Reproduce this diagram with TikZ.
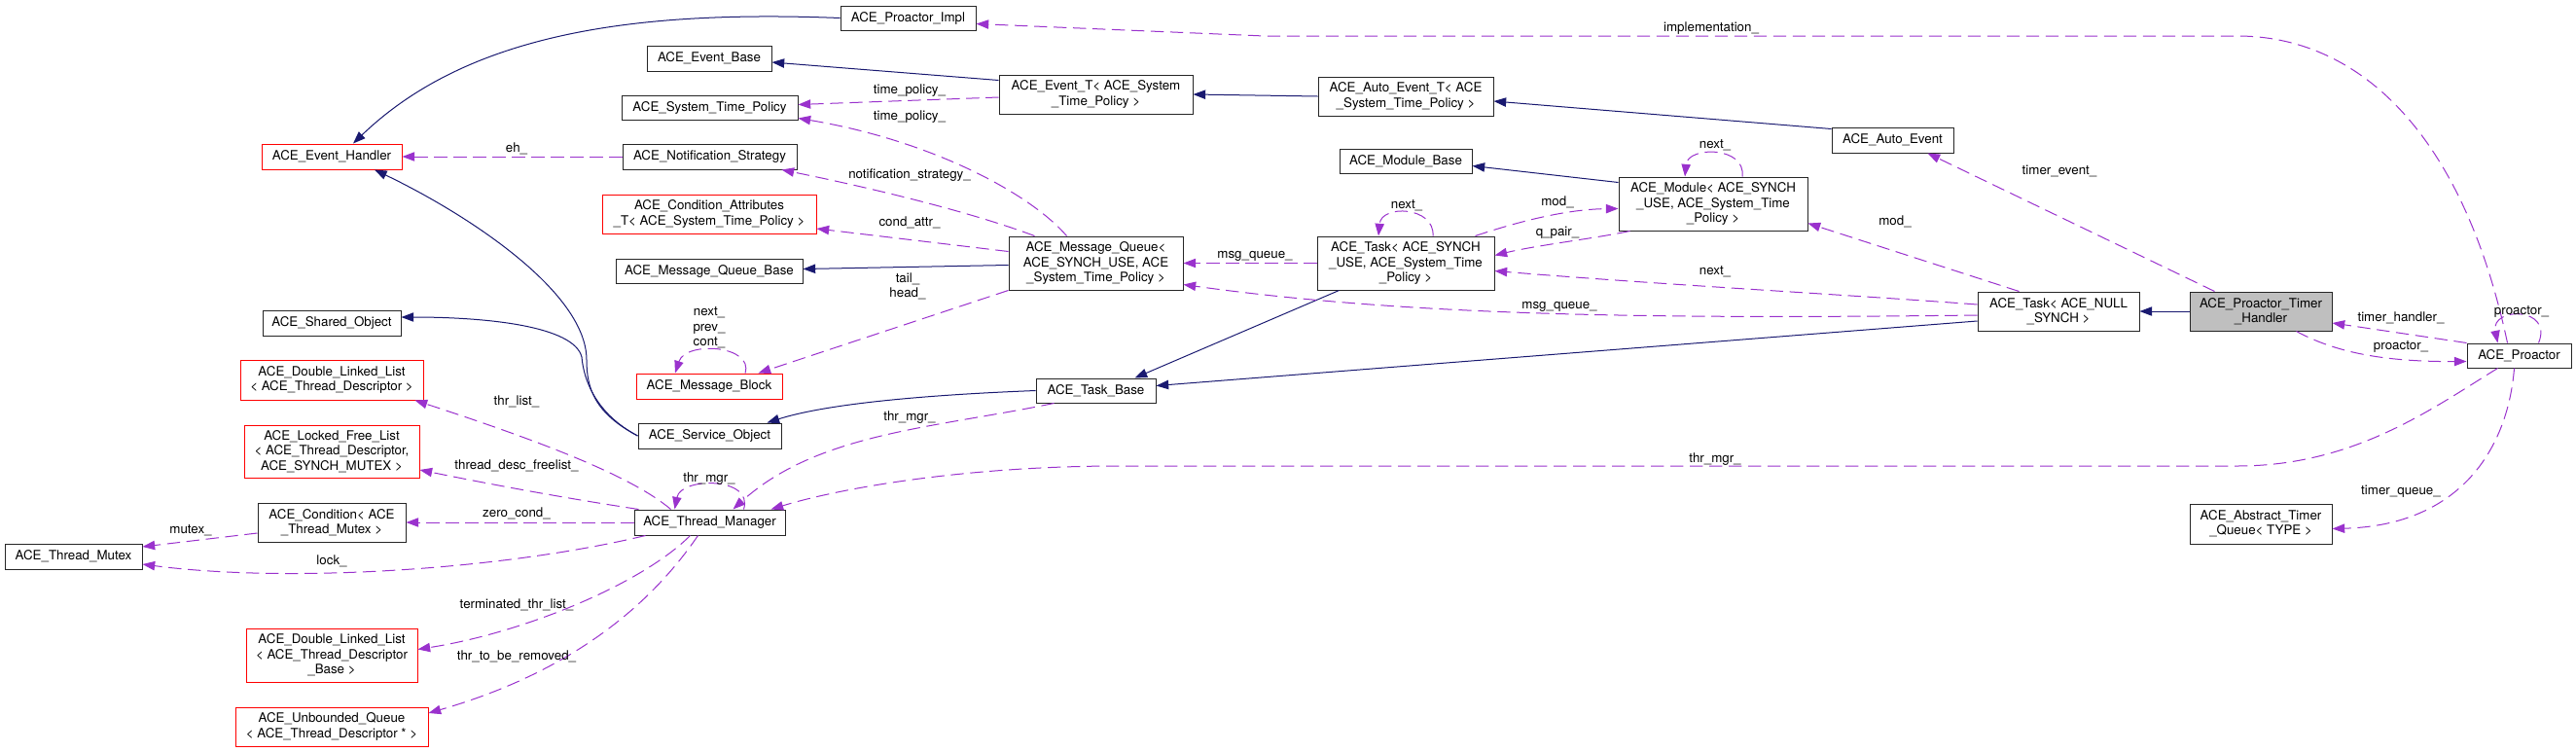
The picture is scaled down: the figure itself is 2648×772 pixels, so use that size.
\documentclass[tikz,border=0pt]{standalone}
\usepackage{fontspec}
\setmainfont{TeX Gyre Heros}
\usetikzlibrary{calc}
\usetikzlibrary{arrows.meta}
\definecolor{inhblue}{RGB}{25,25,112}
\definecolor{usepurple}{RGB}{154,50,205}

\begin{document}
\begin{tikzpicture}[x=0.75pt,y=-0.75pt,font=\fontsize{10}{11.5}\selectfont,
  sz/.style 2 args={minimum width={#1*0.75pt},minimum height={#2*0.75pt}}]
  \tikzstyle{cls}=[draw=black!85,line width=0.75pt,fill=white,align=center,inner sep=0pt]
  \tikzstyle{trunc}=[cls,draw=red]
  \tikzstyle{focus}=[cls,fill=black!25]
  \tikzstyle{lbl}=[inner sep=0pt,align=center]
  \tikzstyle{inh}=[draw=inhblue,line width=0.75pt,-{Triangle[length=9.5pt,width=7pt]}]
  \tikzstyle{use}=[draw=usepurple,line width=0.75pt,dash pattern=on 10pt off 5pt,
    -{Triangle[length=9.5pt,width=7pt]}]
  \useasboundingbox (0,0) rectangle (2648,772);

  % left column
  \node[trunc,sz={144}{26}] (EH) at (341,161) {ACE\_Event\_Handler};
  \node[cls,sz={142}{26}] (ShObj) at (341,332) {ACE\_Shared\_Object};
  \node[trunc,sz={188}{41}] (DLLDesc) at (341,390.5) {ACE\_Double\_Linked\_List\\< ACE\_Thread\_Descriptor >};
  \node[trunc,sz={180}{54}] (LFL) at (341,464) {ACE\_Locked\_Free\_List\\< ACE\_Thread\_Descriptor,\\ ACE\_SYNCH\_MUTEX >};
  \node[cls,sz={152}{40}] (CondTM) at (341,537) {ACE\_Condition< ACE\\\_Thread\_Mutex >};
  \node[cls,sz={141}{26}] (TMutex) at (75.5,572) {ACE\_Thread\_Mutex};
  \node[trunc,sz={176}{55}] (DLLBase) at (341,673.5) {ACE\_Double\_Linked\_List\\< ACE\_Thread\_Descriptor\\\_Base >};
  \node[trunc,sz={198}{40}] (UQ) at (341,747) {ACE\_Unbounded\_Queue\\< ACE\_Thread\_Descriptor * >};

  % second column
  \node[cls,sz={128}{26}] (EvBase) at (729,60) {ACE\_Event\_Base};
  \node[cls,sz={181}{25}] (STP) at (729.5,110.5) {ACE\_System\_Time\_Policy};
  \node[cls,sz={179}{26}] (NS) at (729.5,161) {ACE\_Notification\_Strategy};
  \node[trunc,sz={220}{40}] (CAttr) at (729,220) {ACE\_Condition\_Attributes\\\_T< ACE\_System\_Time\_Policy >};
  \node[cls,sz={192}{25}] (MQBase) at (729,278.5) {ACE\_Message\_Queue\_Base};
  \node[trunc,sz={150}{26}] (MB) at (729,397) {ACE\_Message\_Block};
  \node[cls,sz={147}{26}] (SvcObj) at (729.5,448) {ACE\_Service\_Object};
  \node[cls,sz={155}{26}] (TM) at (729.5,537) {ACE\_Thread\_Manager};

  % middle
  \node[cls,sz={139}{25}] (Impl) at (933.5,18.5) {ACE\_Proactor\_Impl};
  \node[cls,sz={199}{40}] (EvT) at (1126.5,97) {ACE\_Event\_T< ACE\_System\\\_Time\_Policy >};
  \node[cls,sz={179}{55}] (MQ) at (1126.5,270.5) {ACE\_Message\_Queue<\\ ACE\_SYNCH\_USE, ACE\\\_System\_Time\_Policy >};
  \node[cls,sz={123}{25}] (TaskBase) at (1126.5,401.5) {ACE\_Task\_Base};
  \node[cls,sz={180}{40}] (AutoEvT) at (1445,99) {ACE\_Auto\_Event\_T< ACE\\\_System\_Time\_Policy >};
  \node[cls,sz={136}{25}] (ModBase) at (1445,165.5) {ACE\_Module\_Base};
  \node[cls,sz={182}{55}] (TaskS) at (1445,270.5) {ACE\_Task< ACE\_SYNCH\\\_USE, ACE\_System\_Time\\\_Policy >};
  \node[cls,sz={194}{55}] (Module) at (1761,209.5) {ACE\_Module< ACE\_SYNCH\\\_USE, ACE\_System\_Time\\\_Policy >};

  % right side
  \node[cls,sz={125}{26}] (AutoEvent) at (1945.5,144) {ACE\_Auto\_Event};
  \node[cls,sz={166}{40}] (TaskN) at (2116,320) {ACE\_Task< ACE\_NULL\\\_SYNCH >};
  \node[focus,sz={146}{40}] (PTH) at (2324,320) {ACE\_Proactor\_Timer\\\_Handler};
  \node[cls,sz={146}{41}] (ATQ) at (2324,538.5) {ACE\_Abstract\_Timer\\\_Queue< TYPE >};
  \node[cls,sz={107}{25}] (Proactor) at (2589.5,365.5) {ACE\_Proactor};

  % inheritance
  \draw[inh] (Impl.west) .. controls (650,10) and (480,35) .. ($(EH.north)+(22,0)$);
  \draw[inh] (SvcObj.west) .. controls (612,425) and (603,400) .. (603,370)
    .. controls (603,300) and (480,220) .. ($(EH.south)+(44,0)$);
  \draw[inh] (SvcObj.west) .. controls (612,425) and (600,390) .. (598,367)
    .. controls (590,335) and (500,326) .. ($(ShObj.east)+(0,-6)$);
  \draw[inh] ($(EvT.north west)+(0,6)$) -- ($(EvBase.east)+(0,4)$);
  \draw[inh] (AutoEvT.west) -- (EvT.east);
  \draw[inh] ($(AutoEvent.north west)+(0,2)$) -- ($(AutoEvT.east)+(0,5)$);
  \draw[inh] ($(MQ.west)+(0,2)$) -- ($(MQBase.east)+(0,-2)$);
  \draw[inh] ($(Module.north west)+(0,6)$) -- ($(ModBase.east)+(0,5)$);
  \draw[inh] ($(TaskS.south west)+(23,0)$) -- ($(TaskBase.north)+(40,0)$);
  \draw[inh] ($(TaskN.west)+(0,10)$) -- ($(TaskBase.east)+(0,-5)$);
  \draw[inh] (TaskBase.west) .. controls (950,406) and (850,415) .. ($(SvcObj.north east)+(-15,0)$);
  \draw[inh] (PTH.west) -- (TaskN.east);

  % usage
  \draw[use] ($(Proactor.north)+(-12,0)$) .. controls (2530,130) and (2420,37) .. (2300,37)
    -- (1300,37) -- ($(Impl.east)+(0,6)$);
  \draw[use] (NS.west) -- (EH.east);
  \draw[use] ($(EvT.west)+(0,3)$) -- ($(STP.east)+(0,-3)$);
  \draw[use] ($(MQ.north)+(-30,0)$) .. controls (1060,200) and (960,145) .. ($(STP.east)+(0,11)$);
  \draw[use] ($(MQ.north west)+(27,0)$) .. controls (990,215) and (880,190) .. ($(NS.south east)+(-16,0)$);
  \draw[use] ($(MQ.west)+(0,-12)$) -- ($(CAttr.east)+(0,15)$);
  \draw[use] (MQ.south west) -- ($(MB.north east)+(-25,0)$);
  \draw[use] ($(MB.north)+(37,0)$) .. controls (775,355) and (705,350) .. ($(MB.north)+(-35,0)$);
  \draw[use] (TaskS.west) -- (MQ.east);
  \draw[use] ($(TaskN.west)+(0,4)$) .. controls (1700,328) and (1450,325) .. ($(MQ.east)+(0,22)$);
  \draw[use] ($(TaskS.north)+(28,0)$) .. controls (1475,212) and (1420,210) .. ($(TaskS.north)+(-28,0)$);
  \draw[use] ($(TaskS.north east)+(-20,0)$) .. controls (1560,228) and (1610,215) .. ($(Module.west)+(0,5)$);
  \draw[use] ($(Module.south west)+(12,0)$) .. controls (1640,245) and (1580,252) .. ($(TaskS.east)+(0,-8)$);
  \draw[use] ($(Module.north)+(30,0)$) .. controls (1795,150) and (1735,150) .. ($(Module.north)+(-29,0)$);
  \draw[use] ($(TaskN.north west)+(43,0)$) -- ($(Module.east)+(0,20)$);
  \draw[use] ($(TaskN.west)+(0,-7)$) .. controls (1900,303) and (1700,292) .. ($(TaskS.east)+(0,8)$);
  \draw[use] ($(PTH.north west)+(26,0)$) -- ($(AutoEvent.south east)+(-27,0)$);
  \draw[use] (Proactor.north west) -- ($(PTH.east)+(0,12)$);
  \draw[use] ($(PTH.south east)+(-37,0)$) .. controls (2400,362) and (2450,372) .. ($(Proactor.west)+(0,6)$);
  \draw[use] ($(Proactor.north)+(20,0)$) .. controls (2625,315) and (2560,315) .. ($(Proactor.north)+(-22,0)$);
  \draw[use] ($(Proactor.south)+(-5,0)$) .. controls (2578,460) and (2530,540) .. ($(ATQ.east)+(0,5)$);
  \draw[use] ($(Proactor.south west)+(32,0)$) .. controls (2500,420) and (2420,479) .. (2300,479)
    -- (1150,479) .. controls (1000,479) and (870,500) .. ($(TM.north east)+(-15,0)$);
  \draw[use] ($(TaskBase.south west)+(19,0)$) .. controls (960,440) and (840,445) .. ($(TM.north)+(24,0)$);
  \draw[use] ($(TM.north)+(35,0)$) .. controls (775,490) and (700,490) .. ($(TM.north)+(-36,0)$);
  \draw[use] ($(TM.north)+(-40,0)$) .. controls (650,490) and (560,455) .. ($(DLLDesc.south east)+(-9,0)$);
  \draw[use] ($(TM.north west)+(5,0)$) .. controls (580,512) and (500,497) .. ($(LFL.east)+(0,19)$);
  \draw[use] (TM.west) -- (CondTM.east);
  \draw[use] ($(CondTM.west)+(0,11)$) -- ($(TMutex.east)+(0,-10)$);
  \draw[use] ($(TM.south west)+(12,0)$) .. controls (520,585) and (300,600) .. ($(TMutex.east)+(0,8)$);
  \draw[use] ($(TM.south)+(-20,0)$) .. controls (660,600) and (540,650) .. ($(DLLBase.east)+(0,-6)$);
  \draw[use] ($(TM.south)+(-12,0)$) .. controls (670,620) and (590,690) .. ($(UQ.east)+(0,-14)$);

  % edge labels
  \foreach \x/\y/\txt/\nm in {1759/29/implementation\_/lImpl, 531/153/eh\_/lEh,
      935/93/time\_policy\_/lTpA, 935/120/time\_policy\_/lTpB, 935/180/notification\_strategy\_/lNs,
      935/229/cond\_attr\_/lCa, 1290/263/msg\_queue\_/lMqA, 1603/315/msg\_queue\_/lMqB,
      1446/211/next\_/lTsNext, 1601/208/mod\_/lModA, 1601/239/q\_pair\_/lQp,
      1763/149/next\_/lModNext, 1948/228/mod\_/lModB, 1763/279/next\_/lTnNext,
      2117/176/timer\_event\_/lTe, 2468/327/timer\_handler\_/lTh, 2468/356/proactor\_/lPrA,
      2592/320/proactor\_/lPrB, 2468/505/timer\_queue\_/lTq, 1763/472/thr\_mgr\_/lTmA,
      935/429/thr\_mgr\_/lTmB, 729/492/thr\_mgr\_/lTmC, 531/413/thr\_list\_/lTl,
      531/479/thread\_desc\_freelist\_/lTdf, 531/528/zero\_cond\_/lZc, 196/545/mutex\_/lMx,
      341/577/lock\_/lLk, 531/622/terminated\_thr\_list\_/lTtl, 531/675/thr\_to\_be\_removed\_/lTbr}
    \node[lbl] (\nm) at (\x,\y) {\txt};
  \node[lbl] (lTail) at (933,294.5) {tail\_\\head\_};
  \node[lbl] (lMb) at (729,337) {next\_\\prev\_\\cont\_};
\end{tikzpicture}
\end{document}
